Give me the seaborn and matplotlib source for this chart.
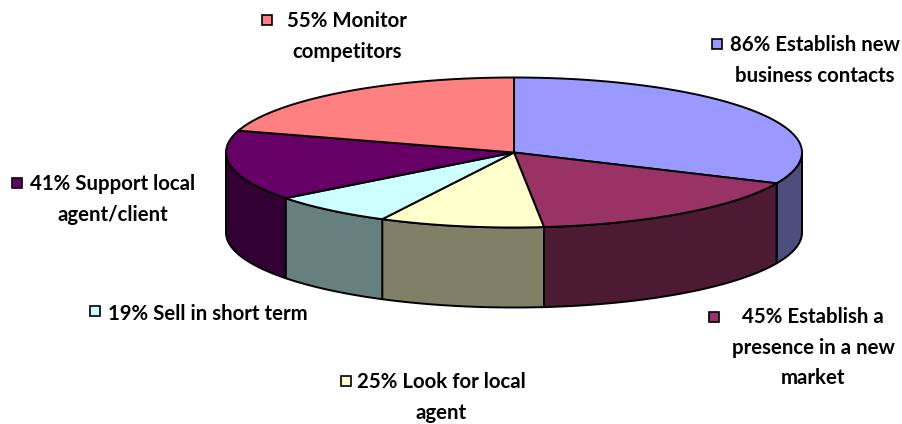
import numpy as np
import matplotlib
matplotlib.use("Agg")
import matplotlib.pyplot as plt
import seaborn as sns

# values in drawing order, clockwise from 12 o'clock
values = [86, 45, 25, 19, 41, 55]
labels = [
    "86% Establish new\nbusiness contacts",
    "45% Establish a\npresence in a new\nmarket",
    "25% Look for local\nagent",
    "19% Sell in short term",
    "41% Support local\nagent/client",
    "55% Monitor\ncompetitors",
]
colors = ["#9999FF", "#993366", "#FFFFCC", "#CCFFFF", "#660066", "#FF8080"]

# label layout: text centre x, text centre y, marker x, marker y
label_pos = [
    (815, 60.5, 717, 44),
    (813, 347.5, 714, 317),
    (441, 397.5, 346, 381),
    (208, 313.5, 95, 311),
    (113, 199.5, 17, 183),
    (347, 36.5, 267, 20),
]

sns.set_theme(style="white")
plt.rcParams["font.family"] = ["Lato", "DejaVu Sans"]

cx, cy, rx, ry, depth = 514, 152.5, 288, 75, 80
lw = 1.4

fig, ax = plt.subplots(figsize=(9.02, 4.24), dpi=100)
ax.set_position([0, 0, 1, 1])
ax.set_xlim(0, 902)
ax.set_ylim(424, 0)
ax.axis("off")


def rim(a, b):
    t = np.linspace(a, b, 120)
    return cx + rx * np.sin(t), cy - ry * np.cos(t)


edges = np.concatenate([[0], np.cumsum(values)]) / sum(values) * 2 * np.pi
palette = sns.color_palette(colors)

# side walls (front half of the pie only)
for i, col in enumerate(palette):
    a = max(edges[i], np.pi / 2)
    b = min(edges[i + 1], 3 * np.pi / 2)
    if b <= a:
        continue
    x, y = rim(a, b)
    dark = tuple(c * 0.5 for c in col)
    ax.fill(np.r_[x, x[::-1]], np.r_[y, y[::-1] + depth], facecolor=dark,
            edgecolor="black", linewidth=lw, joinstyle="round")

# top face
for i, col in enumerate(palette):
    x, y = rim(edges[i], edges[i + 1])
    ax.fill(np.r_[cx, x], np.r_[cy, y], facecolor=col,
            edgecolor="black", linewidth=lw, joinstyle="round")

# labels with their little square keys
for lab, col, (tx, ty, mx, my) in zip(labels, palette, label_pos):
    ax.text(tx, ty, lab, ha="center", va="center", multialignment="center",
            fontsize=14.7, fontweight="bold", color="black", linespacing=1.67)
    ax.plot(mx, my, marker="s", markersize=7.5, markerfacecolor=col,
            markeredgecolor="black", markeredgewidth=1.2, linestyle="none")

fig.savefig("out.png", dpi=100)
